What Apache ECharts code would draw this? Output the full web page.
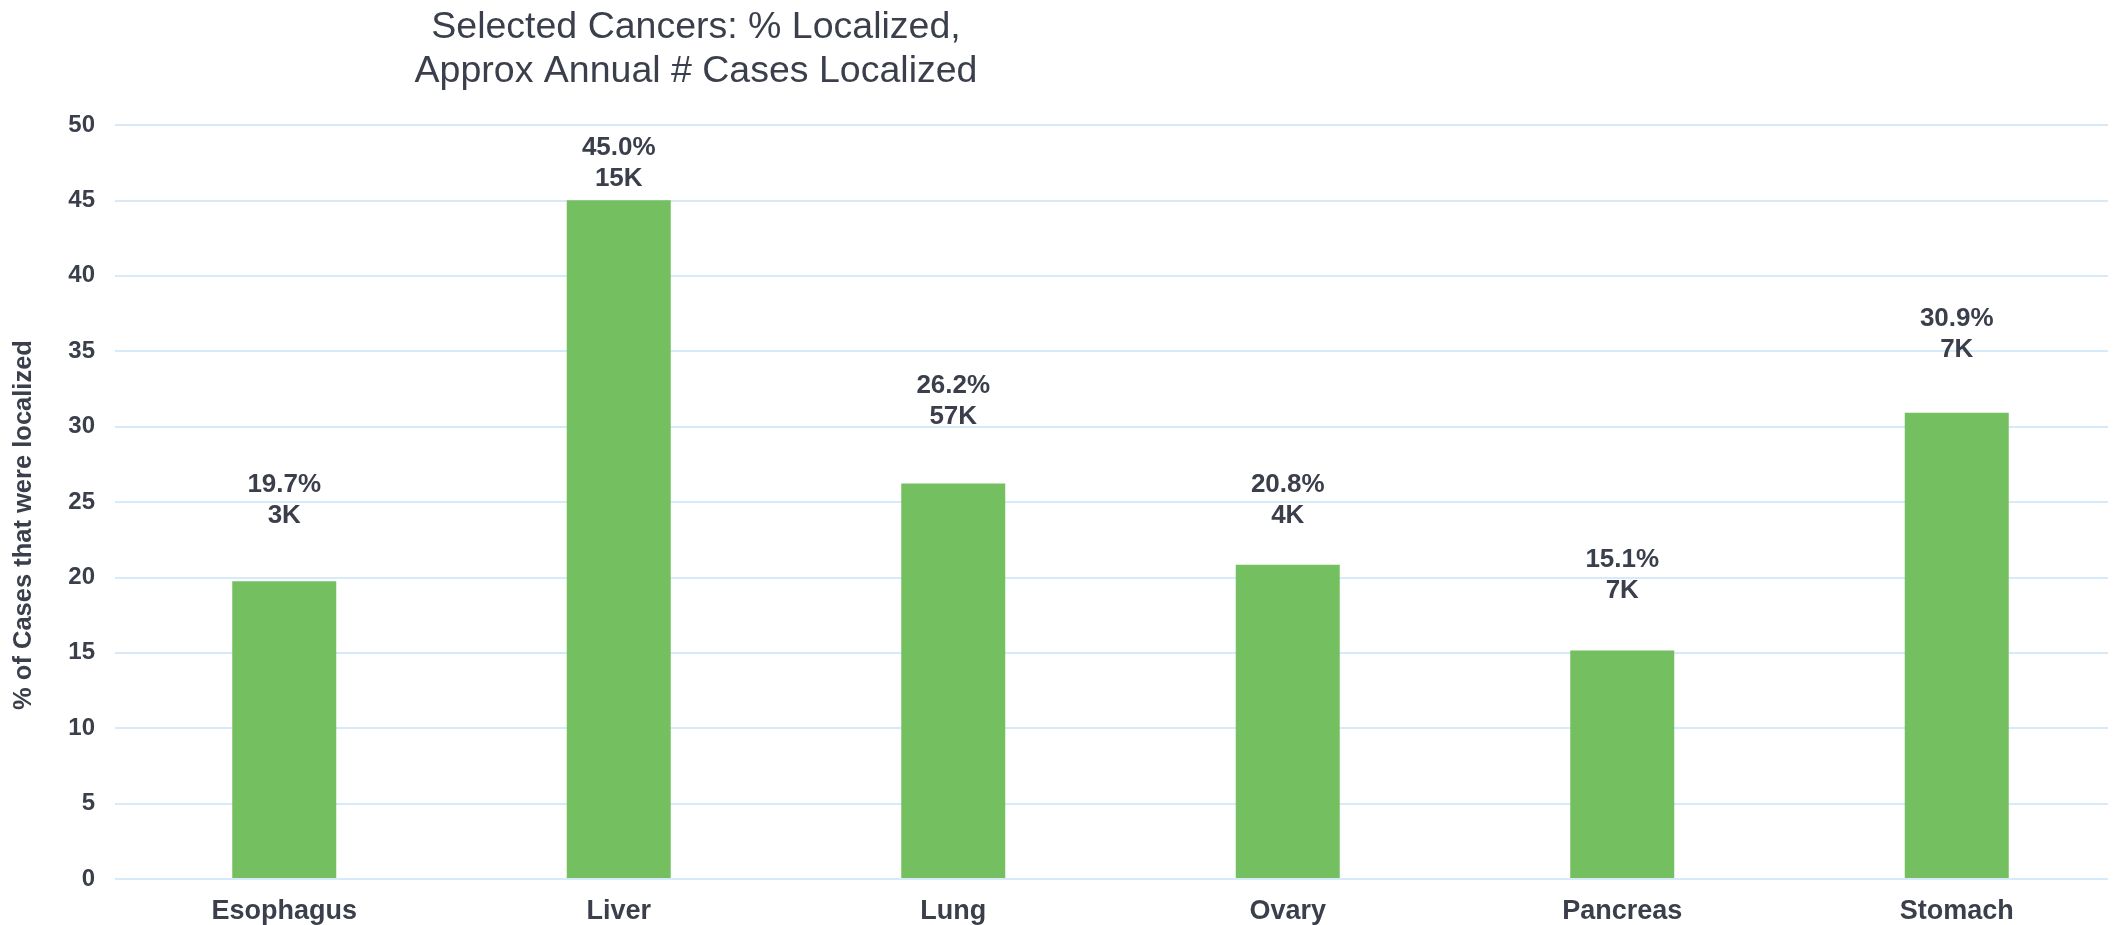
<!DOCTYPE html>
<html>
<head>
<meta charset="utf-8">
<script src="https://cdn.jsdelivr.net/npm/echarts@6/dist/echarts.min.js"></script>
<style>
html,body{margin:0;padding:0;background:#fff;}
#chart{width:2128px;height:925px;}
</style>
</head>
<body>
<div id="chart"></div>
<script>
const categories = ["Esophagus", "Liver", "Lung", "Ovary", "Pancreas", "Stomach"];
const pctLocalized = [19.7, 45.0, 26.2, 20.8, 15.1, 30.9];
const casesLocalized = ["3K", "15K", "57K", "4K", "7K", "7K"];
const yTicks = { min: 0, max: 50, interval: 5 };
const labelGaps = [50, 6, 51, 33, 44, 47];

const textColor = "#3a3f4b";
const font = "Liberation Sans, Arial, sans-serif";

const chart = echarts.init(document.getElementById("chart"));
chart.setOption({
  animation: false,
  title: {
    text: "Selected Cancers: % Localized,\nApprox Annual # Cases Localized",
    left: 691,
    top: 1,
    textAlign: "center",
    textStyle: { fontFamily: font, fontSize: 37.5, fontWeight: "normal", color: textColor, lineHeight: 44 }
  },
  grid: [
    { left: 115, right: 20, top: 125, bottom: 46 },
    { left: 117, right: 4, top: 125, bottom: 46 }
  ],
  xAxis: [
    { type: "category", gridIndex: 0, data: categories, show: false },
    {
      type: "category", gridIndex: 1,
      data: categories,
      axisLine: { show: false },
      axisTick: { show: false },
      axisLabel: { fontFamily: font, fontSize: 27, fontWeight: "bold", color: textColor, margin: 20 }
    }
  ],
  yAxis: [
    {
      type: "value", gridIndex: 0,
      min: yTicks.min, max: yTicks.max, interval: yTicks.interval,
      name: "% of Cases that were localized",
      nameLocation: "middle",
      nameGap: 78,
      nameTextStyle: { fontFamily: font, fontSize: 25.5, fontWeight: "bold", color: textColor, padding: [0, 46, 0, 0] },
      axisLine: { show: false },
      axisTick: { show: false },
      splitLine: { lineStyle: { color: "#d6eafa", width: 2 } },
      axisLabel: { fontFamily: font, fontSize: 24, fontWeight: "bold", color: textColor, margin: 20 }
    },
    {
      type: "value", gridIndex: 1,
      min: yTicks.min, max: yTicks.max, interval: yTicks.interval,
      show: false,
      splitLine: { show: false }
    }
  ],
  series: [{
    type: "bar",
    xAxisIndex: 1,
    yAxisIndex: 1,
    barWidth: 104,
    itemStyle: { color: "#74bf5f" },
    data: pctLocalized.map((v, i) => ({ value: v, label: { distance: labelGaps[i] } })),
    label: {
      show: true,
      position: "top",
      fontFamily: font, fontSize: 26, fontWeight: "bold", color: textColor, lineHeight: 31,
      formatter: p => p.value.toFixed(1) + "%\n" + casesLocalized[p.dataIndex]
    }
  }]
});
</script>
</body>
</html>
